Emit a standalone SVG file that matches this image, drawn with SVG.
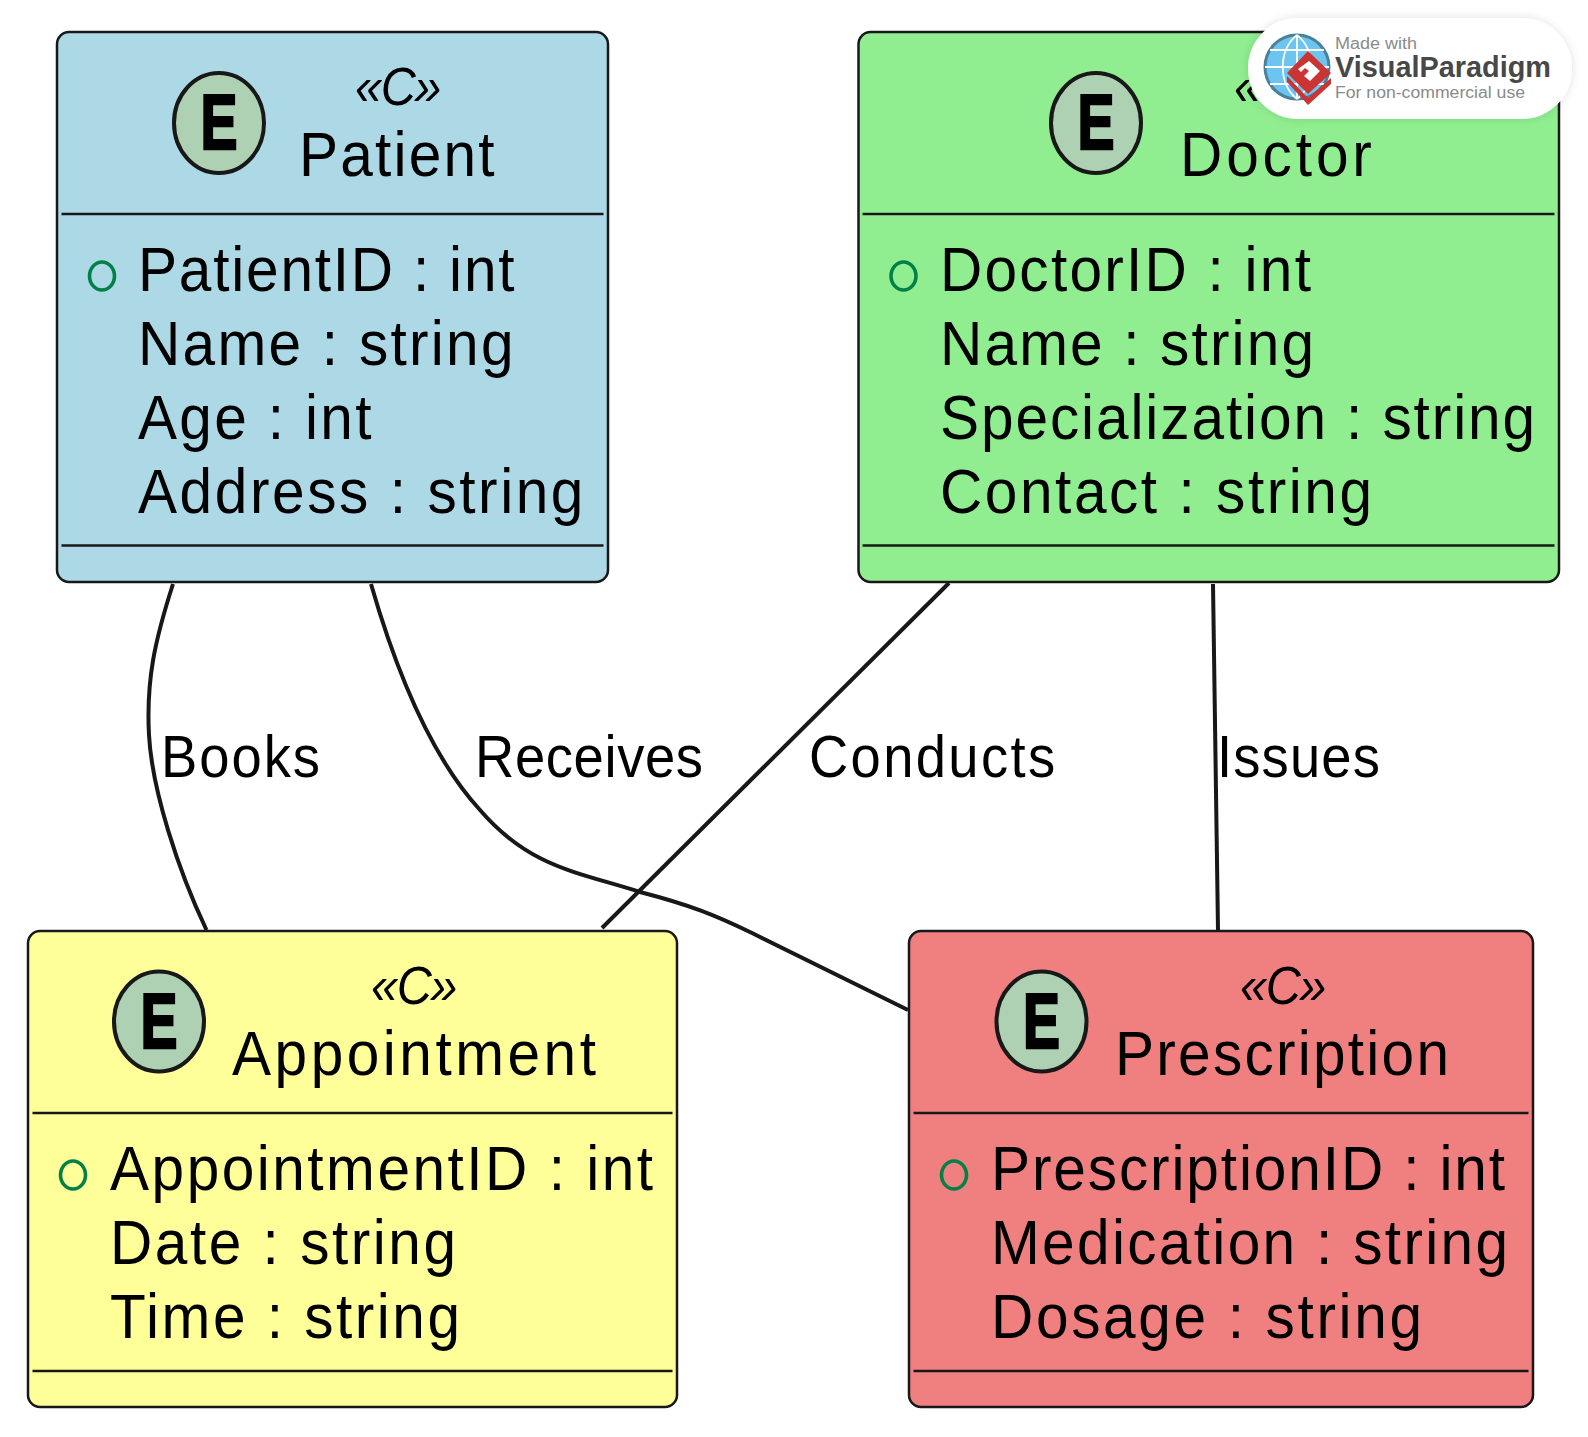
<svg xmlns="http://www.w3.org/2000/svg" width="1588" height="1437" viewBox="0 0 1588 1437">
<defs>
<style>
text{font-family:"Liberation Sans",Arial,sans-serif;fill:#000}
.box{stroke:#181818;stroke-width:2.5}
.div{stroke:#181818;stroke-width:2.5;fill:none}
.spot{fill:#ADD1B2;stroke:#181818;stroke-width:4}
.e{font-weight:700;font-size:78px;stroke:#000;stroke-width:2.5}
.st{font-style:italic;font-size:54px}
.t{font-size:63px}
.a{font-size:63px}
.m{fill:none;stroke:#038048;stroke-width:3.6}
.c{fill:none;stroke:#181818;stroke-width:4}
.l{font-size:58.5px}
</style>
<filter id="sh" x="-10%" y="-20%" width="120%" height="140%"><feDropShadow dx="0" dy="0" stdDeviation="5" flood-color="#000" flood-opacity="0.12"/></filter>
</defs>
<rect width="1588" height="1437" fill="#fff"/>
<g id="connectors">
<path class="c" d="M173 584C155 640 146 680 149 735C152 790 178 870 206.500 930"/>
<path class="c" d="M371 584C390 650 425 750 480 810C530 868 578 872 640 892C690 905 715 915 752 933L908 1010"/>
<path class="c" d="M949 583L602 928"/>
<path class="c" d="M1213 584L1218 930"/>
<text class="l" transform="translate(161 777) scale(.93 1)" textLength="171">Books</text>
<text class="l" transform="translate(475 777) scale(.93 1)" textLength="245.200">Receives</text>
<text class="l" transform="translate(809 777) scale(.93 1)" textLength="264.600">Conducts</text>
<text class="l" transform="translate(1217 777) scale(.93 1)" textLength="175.200">Issues</text>
</g>
<g id="patient">
<rect class="box" x="57" y="32" width="551" height="550" rx="12" fill="#ADD8E6"/>
<ellipse class="spot" cx="219" cy="123" rx="45" ry="50"/>
<text class="e" x="219" y="149" text-anchor="middle" textLength="37" lengthAdjust="spacingAndGlyphs">E</text>
<text class="st" transform="translate(355 105) scale(.9 1)" textLength="96">«C»</text>
<text class="t" transform="translate(299 176) scale(.93 1)" textLength="210.200">Patient</text>
<path class="div" d="M61.500 214H603.500M61.500 545.500H603.500"/>
<ellipse class="m" cx="102" cy="276" rx="12.500" ry="14"/>
<text class="a" transform="translate(138 290.500) scale(.93 1)" textLength="404.900">PatientID : int</text>
<text class="a" transform="translate(138 364.500) scale(.93 1)" textLength="403.800">Name : string</text>
<text class="a" transform="translate(138 438.500) scale(.93 1)" textLength="251">Age : int</text>
<text class="a" transform="translate(138 512.500) scale(.93 1)" textLength="479">Address : string</text>
</g>
<g id="doctor">
<rect class="box" x="858.500" y="32" width="700.500" height="550" rx="12" fill="#90EE90"/>
<ellipse class="spot" cx="1096" cy="123" rx="45" ry="50"/>
<text class="e" x="1096" y="149" text-anchor="middle" textLength="37" lengthAdjust="spacingAndGlyphs">E</text>
<text class="st" transform="translate(1234 105) scale(.9 1)" textLength="96">«C»</text>
<text class="t" transform="translate(1180 176) scale(.93 1)" textLength="206.300">Doctor</text>
<path class="div" d="M862.500 214H1554.500M862.500 545.500H1554.500"/>
<ellipse class="m" cx="903.500" cy="276" rx="12.500" ry="14"/>
<text class="a" transform="translate(940 290.500) scale(.93 1)" textLength="398.900">DoctorID : int</text>
<text class="a" transform="translate(940 364.500) scale(.93 1)" textLength="402.200">Name : string</text>
<text class="a" transform="translate(940 438.500) scale(.93 1)" textLength="639.900">Specialization : string</text>
<text class="a" transform="translate(940 512.500) scale(.93 1)" textLength="464.600">Contact : string</text>
</g>
<g id="appointment">
<rect class="box" x="28" y="931" width="649" height="476" rx="12" fill="#FFFF99"/>
<ellipse class="spot" cx="159" cy="1021.500" rx="45" ry="50"/>
<text class="e" x="159" y="1047.500" text-anchor="middle" textLength="37" lengthAdjust="spacingAndGlyphs">E</text>
<text class="st" transform="translate(371 1004) scale(.9 1)" textLength="96">«C»</text>
<text class="t" transform="translate(232 1074.500) scale(.93 1)" textLength="391.400">Appointment</text>
<path class="div" d="M32.500 1113H672.500M32.500 1371H672.500"/>
<ellipse class="m" cx="73" cy="1175" rx="12.500" ry="14"/>
<text class="a" transform="translate(110 1189.500) scale(.93 1)" textLength="583.900">AppointmentID : int</text>
<text class="a" transform="translate(110 1263.500) scale(.93 1)" textLength="372.100">Date : string</text>
<text class="a" transform="translate(110 1337.500) scale(.93 1)" textLength="376.400">Time : string</text>
</g>
<g id="prescription">
<rect class="box" x="909" y="931" width="624" height="476" rx="12" fill="#F08080"/>
<ellipse class="spot" cx="1041.500" cy="1021.500" rx="45" ry="50"/>
<text class="e" x="1041.500" y="1047.500" text-anchor="middle" textLength="37" lengthAdjust="spacingAndGlyphs">E</text>
<text class="st" transform="translate(1240 1004) scale(.9 1)" textLength="96">«C»</text>
<text class="t" transform="translate(1115 1074.500) scale(.93 1)" textLength="359.200">Prescription</text>
<path class="div" d="M913.500 1113H1528.500M913.500 1371H1528.500"/>
<ellipse class="m" cx="954" cy="1175" rx="12.500" ry="14"/>
<text class="a" transform="translate(991 1189.500) scale(.93 1)" textLength="552.800">PrescriptionID : int</text>
<text class="a" transform="translate(991 1263.500) scale(.93 1)" textLength="556">Medication : string</text>
<text class="a" transform="translate(991 1337.500) scale(.93 1)" textLength="463.500">Dosage : string</text>
</g>
<g id="badge">
<rect x="1248" y="18" width="324" height="101" rx="50" fill="#fff" filter="url(#sh)"/>
<circle cx="1297" cy="67" r="32" fill="#6CC5F0" stroke="#4B8299" stroke-width="3"/>
<path d="M1265 67H1329M1297 35V99M1270 50H1324M1270 84H1324M1297 35C1278 50 1278 84 1297 99M1297 35C1316 50 1316 84 1297 99" fill="none" stroke="#fff" stroke-width="1.800"/>
<path d="M1287 82L1308 105L1331 84L1331 78L1308 98L1287 76Z" fill="#CC3333"/>
<path d="M1308 51L1331 73L1308 94L1287 73Z" fill="#CC3333"/>
<path d="M1309 61L1320 71L1310 81L1304 76L1309 71L1305 68L1301 72L1298 69Z" fill="#fff"/>
<text x="1335" y="49" font-size="16" textLength="82" lengthAdjust="spacingAndGlyphs" style="fill:#8a8a8a">Made with</text>
<text x="1335" y="77" font-size="29" font-weight="700" textLength="216" lengthAdjust="spacingAndGlyphs" style="fill:#484848">VisualParadigm</text>
<text x="1335" y="98" font-size="16" textLength="190" lengthAdjust="spacingAndGlyphs" style="fill:#8a8a8a">For non-commercial use</text>
</g>
</svg>
